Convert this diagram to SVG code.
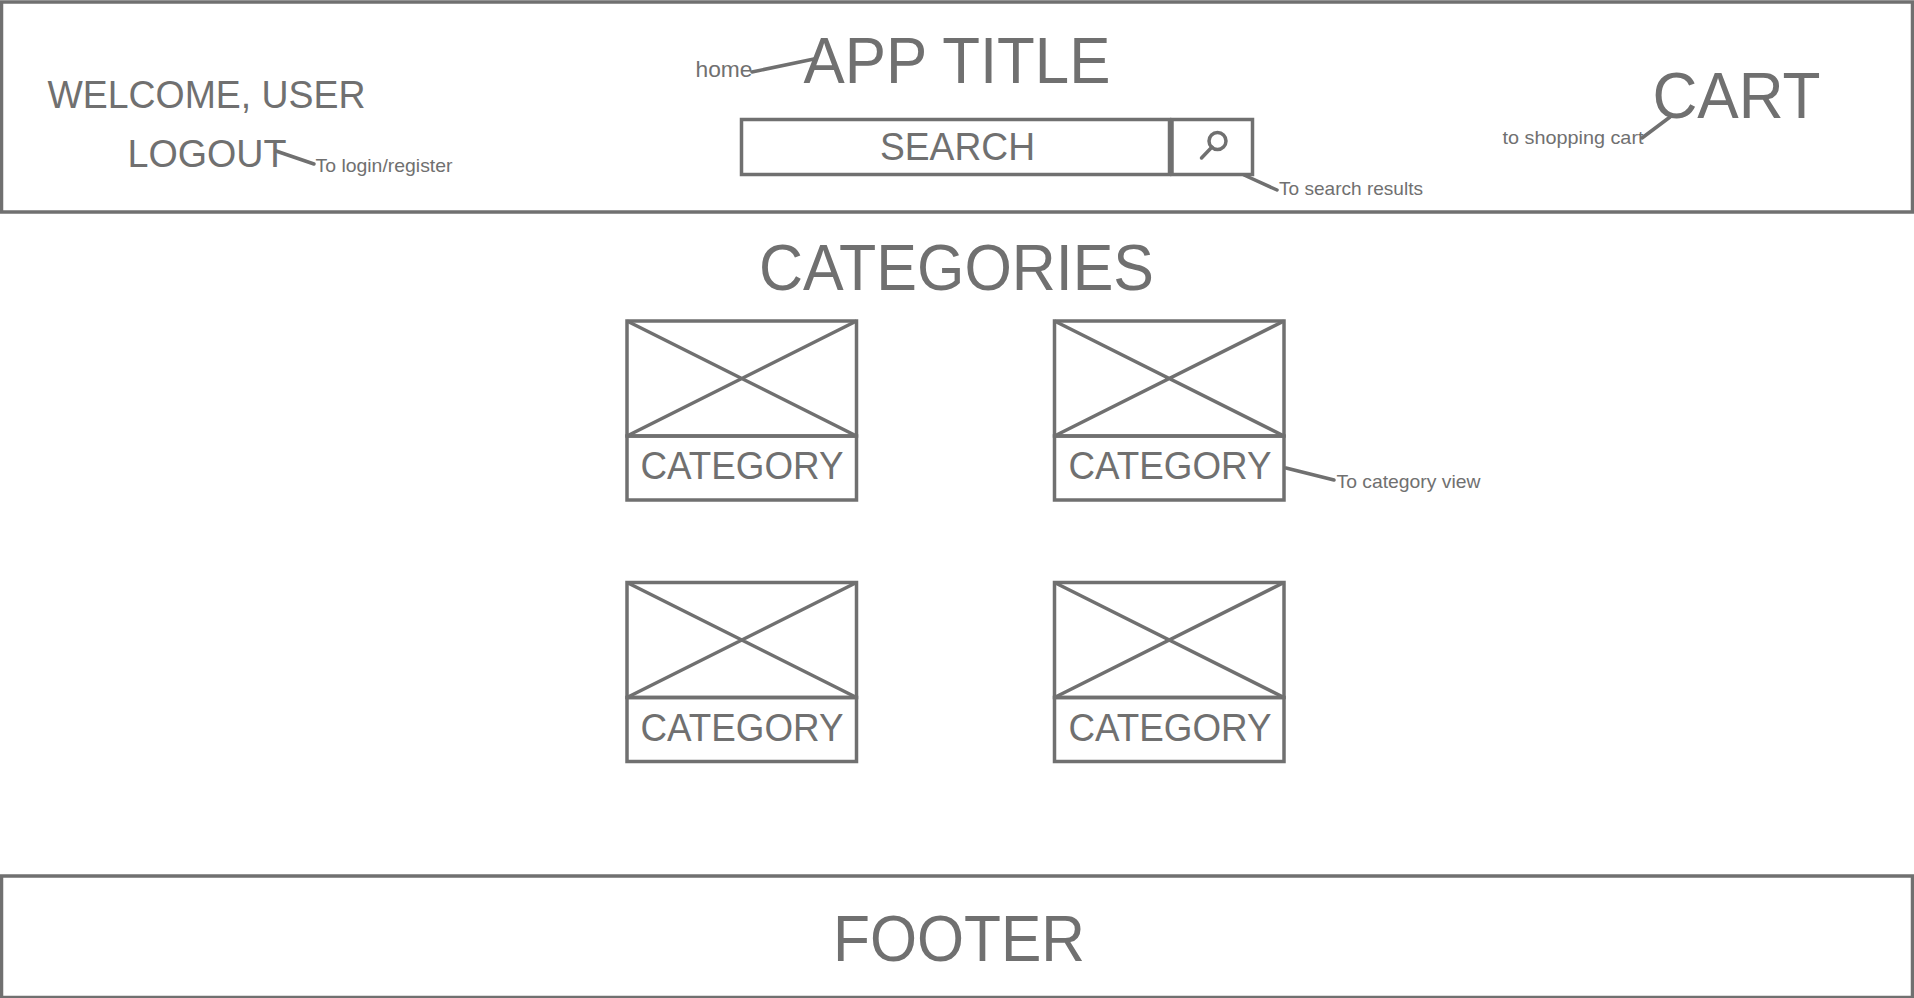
<svg xmlns="http://www.w3.org/2000/svg" width="1914" height="998" viewBox="0 0 1914 998">
<style>
.b{fill:none;stroke:#707070;stroke-width:3.5}
.c{fill:none;stroke:#707070;stroke-width:3.5;stroke-linecap:round}
text{fill:#707070;font-family:"Liberation Sans",Arial,sans-serif}
.s{font-size:19px}.m{font-size:38px}.l{font-size:65px}
</style>
<defs>
<g id="card">
<rect class="b" x="0" y="0" width="229.500" height="115"/>
<rect class="b" x="0" y="115" width="229.500" height="64"/>
<path class="b" d="M0 0L229.500 115M229.500 0L0 115"/>
</g>
</defs>
<rect width="1914" height="998" fill="#ffffff"/>
<g id="header">
<rect class="b" x="1.500" y="2" width="1911" height="210"/>
</g>
<g id="welcome"><text class="m" x="47.500" y="107.500" textLength="318" lengthAdjust="spacingAndGlyphs">WELCOME, USER</text></g>
<g id="logout"><text class="m" x="127.500" y="166.500" textLength="159" lengthAdjust="spacingAndGlyphs">LOGOUT</text></g>
<g id="login-note"><text class="s" x="315.500" y="172" textLength="137" lengthAdjust="spacingAndGlyphs">To login/register</text></g>
<g id="home-note"><text x="695.500" y="77" font-size="22" textLength="57" lengthAdjust="spacingAndGlyphs">home</text></g>
<g id="app-title"><text class="l" x="803.500" y="83" textLength="307" lengthAdjust="spacingAndGlyphs">APP TITLE</text></g>
<g id="search-field">
<rect class="b" x="741.500" y="119.500" width="428" height="55"/>
<text class="m" x="880" y="160" textLength="155" lengthAdjust="spacingAndGlyphs">SEARCH</text>
</g>
<g id="search-button">
<rect class="b" x="1172" y="119.500" width="80.500" height="55"/>
<circle class="b" cx="1217.500" cy="141" r="8.500"/>
<path class="c" d="M1201.500 158L1212 147"/>
</g>
<g id="search-note"><text class="s" x="1279" y="195" textLength="144" lengthAdjust="spacingAndGlyphs">To search results</text></g>
<g id="cart"><text class="l" x="1652.500" y="118" textLength="168" lengthAdjust="spacingAndGlyphs">CART</text></g>
<g id="cart-note"><text class="s" x="1502.500" y="144" textLength="141" lengthAdjust="spacingAndGlyphs">to shopping cart</text></g>
<g id="categories-title"><text class="l" x="759" y="290" textLength="395" lengthAdjust="spacingAndGlyphs">CATEGORIES</text></g>
<g id="category-1"><use href="#card" x="627" y="321"/><text class="m" x="640.500" y="479" textLength="203" lengthAdjust="spacingAndGlyphs">CATEGORY</text></g>
<g id="category-2"><use href="#card" x="1054.500" y="321"/><text class="m" x="1068.500" y="479" textLength="203" lengthAdjust="spacingAndGlyphs">CATEGORY</text></g>
<g id="category-3"><use href="#card" x="627" y="582.500"/><text class="m" x="640.500" y="740.500" textLength="203" lengthAdjust="spacingAndGlyphs">CATEGORY</text></g>
<g id="category-4"><use href="#card" x="1054.500" y="582.500"/><text class="m" x="1068.500" y="740.500" textLength="203" lengthAdjust="spacingAndGlyphs">CATEGORY</text></g>
<g id="category-note"><text class="s" x="1336.500" y="488" textLength="144" lengthAdjust="spacingAndGlyphs">To category view</text></g>
<g id="footer">
<rect class="b" x="1.500" y="876" width="1911" height="121.500"/>
<text class="l" x="833" y="961" textLength="252" lengthAdjust="spacingAndGlyphs">FOOTER</text>
</g>
<g id="connectors">
<path class="c" d="M276 151L314 164"/>
<path class="c" d="M752 72L814 59"/>
<path class="c" d="M1244 175L1277 190"/>
<path class="c" d="M1642 138L1670 117"/>
<path class="c" d="M1286 468L1334 480"/>
</g>
</svg>
